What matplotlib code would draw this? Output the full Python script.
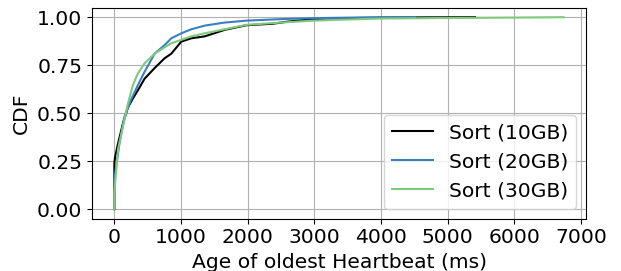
import matplotlib
matplotlib.use("Agg")
import matplotlib.pyplot as plt

labels = ["Sort (10GB)", "Sort (20GB)", "Sort (30GB)"]
colors = ["#000000", "#3a7fc1", "#7fc97f"]

x10 = [0, 0, 10, 54, 129, 204, 279, 354, 454, 604, 754, 854, 1004, 1154, 1354, 1654, 1980, 2380, 2580, 2980, 3500, 4000, 4600, 5410]
y10 = [0.0, 0.24, 0.27, 0.34, 0.447, 0.53, 0.577, 0.62, 0.68, 0.735, 0.786, 0.81, 0.873, 0.89, 0.90, 0.934, 0.958, 0.966, 0.976, 0.99, 0.995, 0.998, 0.999, 1.0]

x20 = [0, 0, 25, 75, 150, 250, 354, 454, 604, 754, 854, 1004, 1154, 1354, 1654, 1980, 2500, 2980, 3600, 4510]
y20 = [0.0, 0.15, 0.22, 0.34, 0.48, 0.57, 0.647, 0.716, 0.81, 0.855, 0.89, 0.916, 0.937, 0.956, 0.972, 0.982, 0.99, 0.995, 0.998, 1.0]

x30 = [0, 0, 10, 54, 129, 204, 279, 354, 454, 604, 754, 854, 1004, 1154, 1354, 1654, 1980, 2500, 2980, 3500, 4000, 5000, 6000, 6740]
y30 = [0.0, 0.08, 0.13, 0.31, 0.43, 0.55, 0.647, 0.708, 0.76, 0.81, 0.843, 0.864, 0.882, 0.90, 0.916, 0.937, 0.96, 0.972, 0.982, 0.988, 0.993, 0.996, 0.998, 1.0]

plt.rcParams["font.family"] = "DejaVu Sans"
plt.rcParams["font.size"] = 14.6

fig = plt.figure(figsize=(6.21, 2.71), dpi=100)
ax = fig.add_axes([0.148, 0.193, 0.796, 0.779])

for xs, ys, lab, c in zip([x10, x20, x30], [y10, y20, y30], labels, colors):
    ax.plot(xs, ys, color=c, label=lab, linewidth=1.5)

ax.set_xticks([0, 1000, 2000, 3000, 4000, 5000, 6000, 7000])
ax.set_yticks([0.0, 0.25, 0.5, 0.75, 1.0])
ax.set_xlabel("Age of oldest Heartbeat (ms)")
ax.set_ylabel("CDF")
ax.grid(True, color="#b0b0b0", linewidth=0.8)
ax.set_axisbelow(True)
ax.legend(loc="lower right")

fig.savefig("out.png", dpi=100)
